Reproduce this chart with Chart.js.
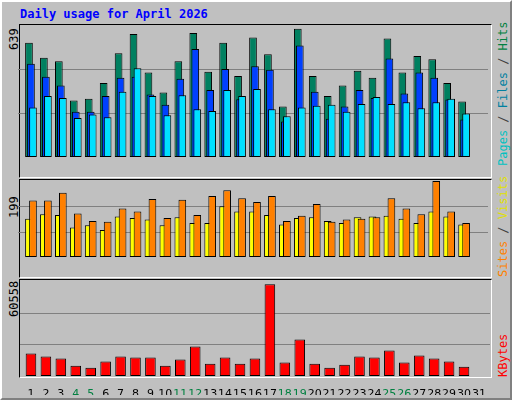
<!DOCTYPE html>
<html><head><meta charset="utf-8">
<script src="https://cdn.jsdelivr.net/npm/chart.js@4"></script>
<style>
html,body{margin:0;padding:0;}
body{width:512px;height:400px;background:#c0c0c0;position:relative;overflow:hidden;font-family:"DejaVu Sans Mono",monospace;}
#frame{position:absolute;left:0;top:0;width:508px;height:396px;border-top:2px solid #fff;border-left:2px solid #fff;border-right:2px solid #808080;border-bottom:2px solid #808080;}
#outer{position:absolute;left:0;top:0;width:510px;height:398px;border:1px solid #000;}
.panel{position:absolute;left:19px;width:471px;border-top:1px solid #000;border-left:1px solid #000;border-right:1px solid #fff;border-bottom:1px solid #fff;}
.cv{position:absolute;}
.t{position:absolute;font-size:11px;white-space:nowrap;}
.rotl{position:absolute;transform-origin:0 0;transform:rotate(-90deg);font-size:12px;white-space:nowrap;}
</style></head><body>
<div id="outer"></div><div id="frame"></div>
<div class="t" style="left:20px;top:7px;color:#0000ff;font-weight:bold;font-size:12px;">Daily usage for April 2026</div>
<div class="panel" style="top:24px;height:152px;"></div>
<div class="panel" style="top:179px;height:97px;"></div>
<div class="panel" style="top:279px;height:97px;"></div>
<div class="rotl" style="left:7px;top:50px;">639</div>
<div class="rotl" style="left:7px;top:218px;">199</div>
<div class="rotl" style="left:7px;top:317px;">60558</div>
<div class="rotl" style="left:496px;top:166px;"><span style="color:#00c0c0">Pages</span><span style="color:#404040"> / </span><span style="color:#0080a0">Files</span><span style="color:#404040"> / </span><span style="color:#008040">Hits</span></div>
<div class="rotl" style="left:496px;top:277px;"><span style="color:#ff8000">Sites</span><span style="color:#404040"> / </span><span style="color:#e0e000">Visits</span></div>
<div class="rotl" style="left:496px;top:377px;color:#ff0000">KBytes</div>
<canvas id="h" class="cv" style="left:18px;top:25px;"></canvas>
<canvas id="f" class="cv" style="left:20px;top:25px;"></canvas>
<canvas id="p" class="cv" style="left:22px;top:25px;"></canvas>
<canvas id="s" class="cv" style="left:18px;top:181px;"></canvas>
<canvas id="v" class="cv" style="left:22px;top:181px;"></canvas>
<canvas id="k" class="cv" style="left:20px;top:281px;"></canvas>
<script>
const days=["1","2","3","4","5","6","7","8","9","10","11","12","13","14","15","16","17","18","19","20","21","22","23","24","25","26","27","28","29","30","31"];
const weekend=["4","5","11","12","18","19","25","26"];
const hits=[553,481,464,274,282,358,502,595,409,312,464,600,413,553,392,578,498,244,621,392,295,346,418,384,574,409,489,473,358,269,null];
const files=[451,388,346,219,219,295,384,388,303,253,379,523,324,426,279,439,422,172,540,316,185,244,324,286,477,308,409,384,278,181,null];
const pages=[240,295,286,189,206,193,316,430,295,202,299,231,223,324,295,329,231,197,240,248,253,219,257,291,257,265,236,265,282,210,null];
const sites=[100,112,110,77,83,71,106,102,98,83,104,89,89,133,119,119,110,85,102,104,94,89,104,106,108,100,89,119,106,85,null];
const visits=[148,148,168,114,94,92,127,119,152,102,150,110,160,175,154,144,160,94,108,139,92,98,100,104,154,127,112,199,119,89,null];
const kbytes=[14285,12366,11086,6609,5330,9168,12366,11726,11726,6609,10447,18762,7888,11726,7888,11086,58418,8528,23239,7888,5330,7249,12366,11726,16203,8528,13005,11086,9168,5970,null];
const maxTop=639, maxMid=199, maxBot=60558;

const gridPlug={id:'g',beforeDatasetsDraw(ch){const y=ch.scales.y,c=ch.ctx;c.save();c.strokeStyle='#808080';c.lineWidth=1;
 [1/3,2/3].forEach(f=>{const p=Math.round(y.getPixelForValue(y.max*f))+0.5;c.beginPath();c.moveTo(0,p);c.lineTo(ch.width,p);c.stroke();});c.restore();}};
function mk(id,data,color,max,h,cp,grid,showX){
 const e=document.getElementById(id);e.width=470;e.height=h;e.style.width='470px';e.style.height=h+'px';
 return new Chart(e,{type:'bar',
  data:{labels:days,datasets:[{data:data,backgroundColor:color,borderColor:'#000',borderWidth:1,borderSkipped:false,categoryPercentage:cp,barPercentage:1}]},
  options:{responsive:false,animation:false,devicePixelRatio:1,layout:{padding:{left:3.5,right:3.5,top:0,bottom:0}},
   plugins:{legend:{display:false},tooltip:{enabled:false}},
   scales:{y:{display:false,min:0,max:max},
    x:{display:showX,grid:{display:false},border:{display:false},afterFit:s=>{s.height=19;},
     ticks:{font:{family:'DejaVu Sans',size:11},padding:4,maxRotation:0,autoSkip:false,
      color:c=>weekend.includes(days[c.index])?'#008040':'#000'}}}},
  plugins:grid?[gridPlug]:[]});
}
mk('h',hits,'#008060',maxTop,151,0.515,true,false);
mk('f',files,'#0040ff',maxTop,151,0.515,false,false);
mk('p',pages,'#00e0ff',maxTop,151,0.515,false,false);
mk('s',sites,'#ffff00',maxMid,95,0.515,true,false);
mk('v',visits,'#ff8000',maxMid,95,0.515,false,false);
mk('k',kbytes,'#ff0000',maxBot,114,0.71,true,true);
</script></body></html>
